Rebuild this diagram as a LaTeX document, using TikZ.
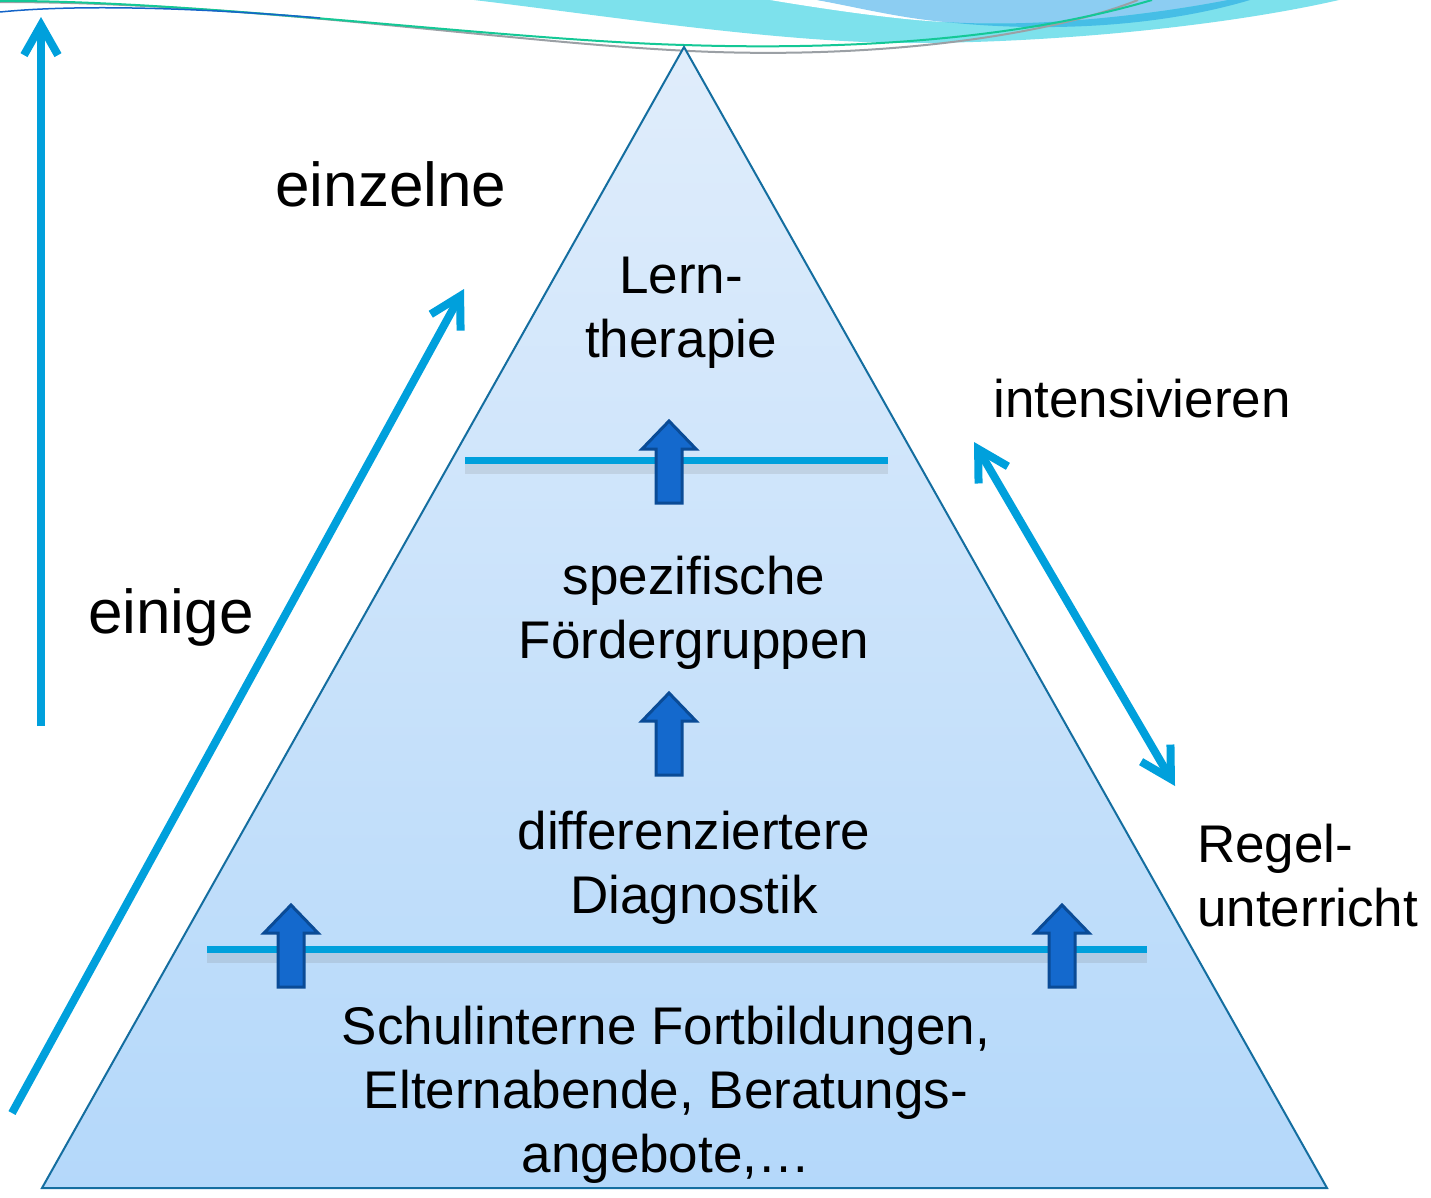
\documentclass[tikz,border=0pt]{standalone}
\usepackage{fontspec}
\setmainfont{Liberation Sans}
\usepackage{tikz}
\usetikzlibrary{positioning,arrows.meta,calc}
\definecolor{pyrline}{RGB}{20,110,160}
\definecolor{pyrtop}{RGB}{224,237,251}
\definecolor{pyrbottom}{RGB}{180,216,250}
\definecolor{accent}{RGB}{0,160,220}
\definecolor{blockfill}{RGB}{20,105,205}
\definecolor{blockedge}{RGB}{10,75,150}
\definecolor{wavecyan}{RGB}{125,225,236}
\definecolor{waveblue}{RGB}{140,205,242}
\definecolor{wavedeep}{RGB}{70,190,230}
\definecolor{wavegreen}{RGB}{20,200,150}
\definecolor{wavegray}{RGB}{155,160,165}
\definecolor{wavenavy}{RGB}{20,100,200}

\begin{document}
\begin{tikzpicture}[x=1pt,y=-1pt,
    lbl/.style={font=\fontsize{53}{64}\selectfont,align=center,anchor=base,inner sep=0pt},
    biglbl/.style={font=\fontsize{62}{74}\selectfont,anchor=base,inner sep=0pt},
    bar/.style={draw=accent,line width=7pt},
    barshadow/.style={draw=black!60,line width=10pt,opacity=.15},
    flow/.style={draw=accent,line width=8pt,-{Straight Barb[length=30pt,width=34pt]}},
    twoway/.style={flow,{Straight Barb[length=30pt,width=34pt]}-{Straight Barb[length=30pt,width=34pt]}},
    uparrow/.pic={\draw[fill=blockfill,draw=blockedge,line width=3pt] (-13,41) -- (-13,-13) -- (-27,-13) -- (0,-41) -- (27,-13) -- (13,-13) -- (13,41) -- cycle;}
  ]
    \useasboundingbox[fill=white] (0,0) rectangle (1431,1197);

    % wave decoration at the top
    \fill[wavecyan] (474,0) .. controls (600,15) and (780,43) .. (910,43) .. controls (1060,43) and (1230,25) .. (1339,0) -- cycle;
    \fill[white] (770,0) .. controls (830,10) and (900,20) .. (945,22) .. controls (900,15) and (850,5) .. (817,0) -- cycle;
    \fill[waveblue] (817,0) .. controls (860,8) and (900,18) .. (945,22) .. controls (1040,28) and (1150,15) .. (1228,0) -- cycle;
    \fill[wavedeep] (945,22) .. controls (1040,28) and (1150,15) .. (1228,0) -- (1250,0) .. controls (1170,24) and (1060,34) .. cycle;
    \draw[wavegray,line width=2pt] (0,2) .. controls (250,2) and (500,42) .. (690,51) .. controls (880,60) and (1050,35) .. (1138,0);
    \draw[wavegreen,line width=2pt] (0,1) .. controls (200,0) and (500,40) .. (684,45) .. controls (900,52) and (1050,30) .. (1152,0);
    \draw[wavenavy,line width=1.5pt] (0,12) .. controls (80,4) and (200,8) .. (320,18);

    % pyramid
    \coordinate (apex) at (684,47);
    \coordinate (bl) at (42,1188);
    \coordinate (br) at (1327,1188);
    \shade[top color=pyrtop,bottom color=pyrbottom] (apex) -- (bl) -- (br) -- cycle;
    \draw[pyrline,line width=2pt] (apex) -- (bl) -- (br) -- cycle;

    % level lines
    \coordinate (u1) at (465,460);
    \coordinate (u2) at (888,460);
    \coordinate (l1) at (207,949);
    \coordinate (l2) at (1147,949);
    \draw[barshadow] ($(u1)+(0,9)$) -- ($(u2)+(0,9)$);
    \draw[barshadow] ($(l1)+(0,9)$) -- ($(l2)+(0,9)$);
    \draw[bar] (u1) -- (u2);
    \draw[bar] (l1) -- (l2);

    \foreach \x/\y in {669/462,669/734,291/946,1062/946}
      \pic at (\x,\y) {uparrow};

    % texts (base = baseline of the last line)
    \node[lbl] (lern) at (681,357) {Lern-\\therapie};
    \node[lbl] (groups) at (694,658) {spezifische\\Fördergruppen};
    \node[lbl] (diag) at (694,913) {differenziertere\\Diagnostik};
    \node[lbl] (base) at (666,1172) {Schulinterne Fortbildungen,\\Elternabende, Beratungs-\\angebote,…};
    \node[biglbl] (few) at (391,206) {einzelne};
    \node[biglbl] (some) at (171,633) {einige};
    \node[lbl] (intens) at (1142,417) {intensivieren};
    \node[lbl,align=left,anchor=base west] (regular) at (1197,926) {Regel-\\unterricht};

    % side arrows
    \coordinate (v0) at (41,726);
    \coordinate (v1) at (41,17);
    \coordinate (d0) at (12,1113);
    \coordinate (d1) at (464,289);
    \coordinate (t0) at (974,442);
    \coordinate (t1) at (1175,786);
    \draw[flow] (v0) -- (v1);
    \draw[flow] (d0) -- (d1);
    \draw[twoway] (t0) -- (t1);
  \end{tikzpicture}
\end{document}
